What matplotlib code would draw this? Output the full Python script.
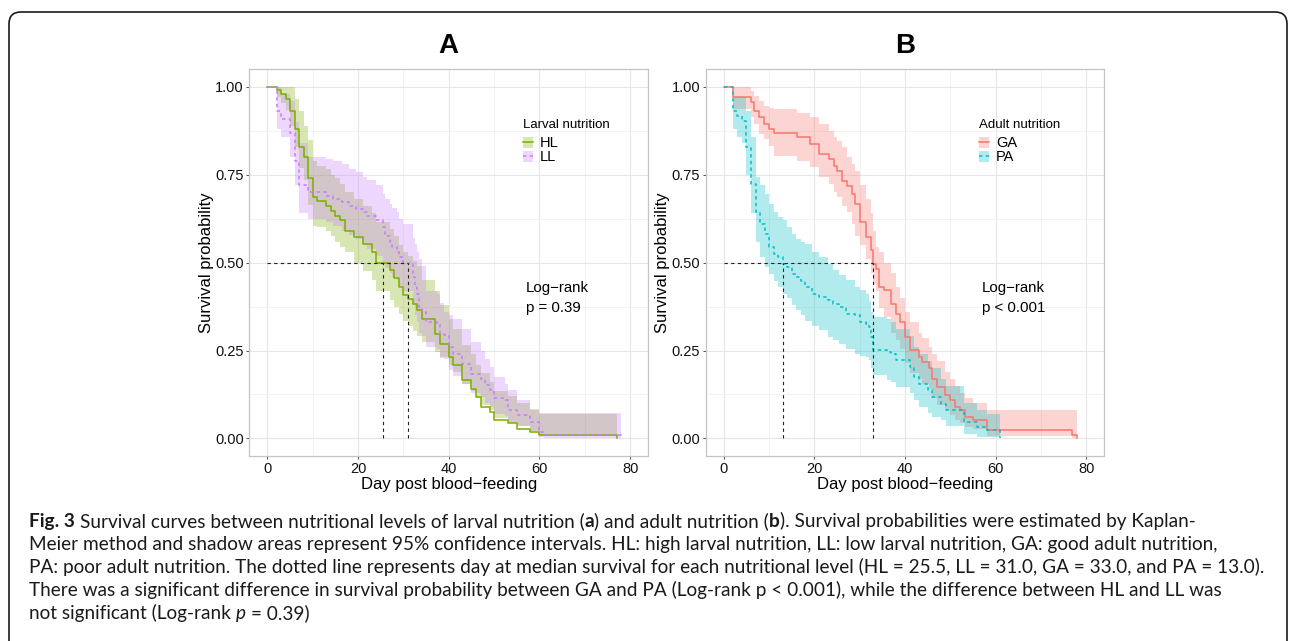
import matplotlib
matplotlib.use("Agg")
import matplotlib.pyplot as plt
from matplotlib.patches import Patch, FancyBboxPatch
from matplotlib.lines import Line2D
from matplotlib.ticker import MultipleLocator
from matplotlib.transforms import IdentityTransform

plt.rcParams['font.family'] = ['Liberation Sans', 'DejaVu Sans']

# ---- panel A: larval nutrition (KM estimates) ----
hl_time = [0, 2, 3, 4, 5, 6, 7, 8, 9, 10, 11, 13, 14, 15, 16, 17, 19, 21, 23, 24,
           27, 28, 29, 30, 31, 32, 33, 34, 37, 38, 40, 41, 43, 45, 46, 47, 49, 50, 53, 55,
           58, 60, 77]
hl_surv = [1.0, .99, .98, .965, .93, .88, .83, .80, .74, .686, .675, .662, .648, .634, .62, .591, .572, .553, .53, .50,
           .48, .455, .43, .407, .397, .383, .364, .341, .298, .27, .232, .208, .165, .142, .118, .09, .076, .052, .043, .028,
           .019, .009, 0.0]
hl_lower = [1.0, .97, .955, .935, .89, .83, .77, .735, .665, .605, .60, .59, .577, .56, .545, .53, .50, .475, .45, .42,
            .395, .375, .355, .335, .32, .305, .29, .275, .245, .232, .21, .188, .155, .135, .115, .095, .08, .058, .047, .035,
            .022, .009, 0.0]
hl_upper = [1.0, 1.0, 1.0, 1.0, 1.0, .965, .93, .89, .85, .79, .775, .765, .75, .74, .725, .70, .68, .66, .64, .615,
            .595, .575, .55, .53, .52, .505, .49, .45, .42, .38, .34, .31, .265, .24, .21, .185, .16, .135, .12, .10,
            .085, .07, .07]

ll_time = [0, 2, 3, 5, 6, 7, 9, 13, 14.5, 16.5, 18, 19.5, 21, 22, 24, 25.5, 26, 27, 27.5, 28.5,
           29, 30, 32, 32.5, 33, 33.5, 34, 35, 37.5, 38, 39, 40, 41, 43, 45, 47, 48, 49, 50, 52.5,
           53, 55, 58, 60, 61, 78]
ll_surv = [1.0, .932, .908, .87, .79, .72, .70, .69, .68, .672, .662, .653, .643, .634, .62, .60, .575, .56, .545, .53,
           .516, .50, .46, .43, .41, .374, .36, .331, .326, .298, .293, .26, .241, .213, .184, .17, .151, .137, .114, .109,
           .08, .066, .047, .019, .009, 0.0]
ll_lower = [1.0, .88, .856, .80, .72, .64, .625, .615, .605, .59, .578, .568, .55, .54, .52, .50, .485, .47, .46, .45,
            .435, .42, .38, .35, .33, .30, .29, .26, .255, .23, .225, .195, .178, .155, .13, .118, .10, .09, .07, .065,
            .045, .035, .02, .004, .001, 0.0]
ll_upper = [1.0, 1.0, .98, .96, .90, .84, .80, .795, .79, .78, .766, .757, .743, .735, .72, .695, .68, .667, .655, .645,
            .624, .61, .57, .553, .53, .51, .49, .42, .41, .385, .36, .35, .34, .31, .275, .25, .227, .203, .175, .156,
            .137, .109, .08, .071, .071, .071]

# ---- panel B: adult nutrition ----
ga_time = [0, 2, 6, 6.6, 7.7, 8.8, 9.9, 11, 16.2, 19.1, 21, 23.2, 24.3, 25, 26.1, 27.2, 28.3, 29, 30.1, 31.3,
           32.4, 33, 33.5, 34.2, 35.3, 37, 38, 39, 40, 41.2, 43, 43.7, 45.2, 45.9, 47, 48.9, 50, 51.1, 52.2, 53.3,
           55.1, 58.1, 76.8, 77.9]
ga_surv = [1.0, .97, .956, .932, .913, .894, .88, .868, .856, .837, .809, .795, .776, .762, .733, .719, .695, .667, .615, .572,
           .535, .497, .483, .43, .421, .383, .355, .33, .288, .251, .232, .217, .199, .17, .146, .123, .109, .09, .08, .061,
           .052, .024, .009, 0.0]
ga_lower = [1.0, .937, .913, .894, .866, .851, .833, .804, .79, .771, .743, .724, .70, .686, .66, .643, .61, .575, .55, .51,
            .47, .44, .42, .37, .345, .30, .28, .255, .215, .185, .17, .155, .14, .115, .095, .08, .068, .052, .045, .032,
            .026, .008, .001, 0.0]
ga_upper = [1.0, 1.0, .989, .974, .96, .946, .94, .937, .927, .913, .894, .875, .856, .845, .828, .80, .78, .762, .72, .68,
            .64, .59, .544, .53, .50, .47, .43, .40, .36, .33, .30, .285, .26, .24, .22, .19, .17, .15, .13, .115,
            .10, .08, .08, .08]

pa_time = [0, 2, 3, 4, 5, 6, 7, 8, 9, 10, 11, 12, 13, 14, 15, 16, 17, 18, 19.5, 21,
           23, 24, 25.5, 27, 29, 30, 31.5, 32, 32.5, 33, 36, 37, 38, 41, 42, 43, 45, 46, 48, 49,
           53, 56, 58, 61]
pa_surv = [1.0, .932, .918, .904, .828, .724, .643, .61, .582, .544, .525, .516, .497, .487, .468, .459, .449, .43, .412, .402,
           .393, .383, .374, .355, .35, .331, .326, .317, .288, .251, .246, .241, .222, .203, .175, .156, .137, .118, .099, .08,
           .047, .033, .024, 0.0]
pa_lower = [1.0, .88, .856, .84, .75, .64, .558, .516, .487, .468, .449, .43, .41, .40, .38, .365, .35, .335, .32, .307,
            .289, .28, .27, .255, .241, .235, .232, .222, .20, .18, .166, .16, .147, .128, .109, .09, .071, .06, .052, .035,
            .014, .005, .003, 0.0]
pa_upper = [1.0, .97, .97, .97, .93, .856, .743, .72, .695, .667, .645, .63, .62, .60, .582, .568, .56, .553, .53, .516,
            .497, .478, .465, .45, .43, .421, .41, .39, .36, .345, .34, .33, .31, .29, .26, .24, .22, .20, .17, .15,
            .10, .08, .07, .07]

medians_a = [25.5, 31.0]   # HL, LL
medians_b = [33.0, 13.0]   # GA, PA

x_ticks = [0, 20, 40, 60, 80]
y_ticks = [0.0, 0.25, 0.5, 0.75, 1.0]
y_ticklabels = ["0.00", "0.25", "0.50", "0.75", "1.00"]

W, H = 1295, 641
fig = plt.figure(figsize=(W / 100, H / 100), dpi=100)


def axes_px(l, t, r, b):
    return fig.add_axes([l / W, 1 - b / H, (r - l) / W, (b - t) / H])


def km_panel(ax, groups, medians, leg_title, ptext, letter):
    for g in groups:
        ax.fill_between(g["t"], g["lo"], g["up"], step="post", color=g["c"],
                        alpha=0.3, lw=0, zorder=2)
    for g in groups:
        ax.step(g["t"], g["s"], where="post", color=g["c"], lw=1.1,
                ls=(0, (2.2, 2.2)) if g["dash"] else "-", zorder=3)
    ax.plot([0, max(medians)], [0.5, 0.5], color="#222222", lw=0.8,
            ls=(0, (3, 3)), zorder=4)
    for m in medians:
        ax.plot([m, m], [0, 0.5], color="#222222", lw=0.8, ls=(0, (3, 3)), zorder=4)

    ax.set_xlim(-4, 84)
    ax.set_ylim(-0.05, 1.05)
    ax.set_xticks(x_ticks)
    ax.set_yticks(y_ticks)
    ax.set_yticklabels(y_ticklabels)
    ax.xaxis.set_minor_locator(MultipleLocator(10))
    ax.yaxis.set_minor_locator(MultipleLocator(0.125))
    ax.grid(which="major", color="#e6e6e6", lw=0.8)
    ax.grid(which="minor", color="#f0f0f0", lw=0.6)
    ax.set_axisbelow(True)
    for sp in ax.spines.values():
        sp.set_color("#c4c4c4")
        sp.set_linewidth(0.9)
    ax.tick_params(which="major", length=2.5, width=0.6, color="#333333",
                   labelsize=10.5, labelcolor="#111111", pad=1.5)
    ax.tick_params(which="minor", length=0)
    ax.set_xlabel("Day post blood\u2212feeding", fontsize=12, labelpad=1)
    ax.set_ylabel("Survival probability", fontsize=12, labelpad=1)
    ax.set_title(letter, fontsize=20, fontweight="bold", pad=12)

    handles = [(Patch(facecolor=g["c"], alpha=0.3, edgecolor="none"),
                Line2D([], [], color=g["c"], lw=1.1,
                       ls=(0, (2.2, 2.2)) if g["dash"] else "-")) for g in groups]
    leg = ax.legend(handles, [g["name"] for g in groups], title=leg_title,
                    loc="upper left", bbox_to_anchor=(0.685, 0.872), frameon=False,
                    fontsize=10.5, title_fontsize=9.5, handlelength=0.7,
                    handleheight=0.75, labelspacing=0.0, handletextpad=0.5,
                    borderpad=0, borderaxespad=0, alignment="left")
    leg._legend_box.sep = 4

    ax.text(57, 0.427, "Log\u2212rank", fontsize=10.8, va="center", ha="left")
    ax.text(57, 0.37, ptext, fontsize=10.8, va="center", ha="left")


axA = axes_px(249.3, 69.3, 648.3, 456)
axB = axes_px(705.7, 69.3, 1104.3, 456)

km_panel(axA, [
    dict(name="HL", t=hl_time, s=hl_surv, lo=hl_lower, up=hl_upper, c="#7CAE00", dash=False),
    dict(name="LL", t=ll_time, s=ll_surv, lo=ll_lower, up=ll_upper, c="#C77CFF", dash=True),
], medians_a, "Larval nutrition", "p = 0.39", "A")

km_panel(axB, [
    dict(name="GA", t=ga_time, s=ga_surv, lo=ga_lower, up=ga_upper, c="#F8766D", dash=False),
    dict(name="PA", t=pa_time, s=pa_surv, lo=pa_lower, up=pa_upper, c="#00BFC4", dash=True),
], medians_b, "Adult nutrition", "p < 0.001", "B")

# ---- rounded frame and caption ----
frame = FancyBboxPatch((9, -40), 1278, (H - 12) + 40,
                       boxstyle="round,pad=0,rounding_size=12",
                       transform=IdentityTransform(), facecolor="none",
                       edgecolor="#1a1a1a", lw=1.2)
fig.add_artist(frame)

cap_font = ["Lato", "DejaVu Sans"]
renderer = fig.canvas.get_renderer()


def width_of(s, **kw):
    t1 = fig.text(0, 0, "|" + s + "|", **kw)
    t2 = fig.text(0, 0, "||", **kw)
    w = t1.get_window_extent(renderer).width - t2.get_window_extent(renderer).width
    t1.remove()
    t2.remove()
    return w


N, B, I = ("normal", "normal"), ("bold", "normal"), ("normal", "italic")
caption = [
    [("Fig. 3", B), (" Survival curves between nutritional levels of larval nutrition (", N), ("a", B),
     (") and adult nutrition (", N), ("b", B), ("). Survival probabilities were estimated by Kaplan-", N)],
    [("Meier method and shadow areas represent 95% confidence intervals. HL: high larval nutrition, "
      "LL: low larval nutrition, GA: good adult nutrition,", N)],
    [("PA: poor adult nutrition. The dotted line represents day at median survival for each nutritional "
      "level (HL = 25.5, LL = 31.0, GA = 33.0, and PA = 13.0).", N)],
    [("There was a significant difference in survival probability between GA and PA (Log-rank p < 0.001), "
      "while the difference between HL and LL was", N)],
    [("not significant (Log-rank ", N), ("p", I), (" = 0.39)", N)],
]
line_baseline = [527, 550, 573, 596, 619]
cap_x0, cap_x1 = 29, 1264


def line_width(runs, size):
    return sum(width_of(s, fontsize=size, fontweight=w, fontstyle=st, family=cap_font)
               for s, (w, st) in runs)


widest = max(line_width(r, 10) for r in caption)
cap_size = 10 * (cap_x1 - cap_x0) / widest

for runs, y in zip(caption, line_baseline):
    x = cap_x0
    for s, (w, st) in runs:
        kw = dict(fontsize=cap_size, fontweight=w, fontstyle=st, family=cap_font)
        lead = len(s) - len(s.lstrip(" "))
        if lead:
            x += width_of(" " * lead, **kw)
        body = s.lstrip(" ")
        fig.text(x / W, 1 - y / H, body, va="baseline", ha="left", color="#1a1a1a", **kw)
        x += width_of(body, **kw)

fig.savefig("out.png", dpi=100)
